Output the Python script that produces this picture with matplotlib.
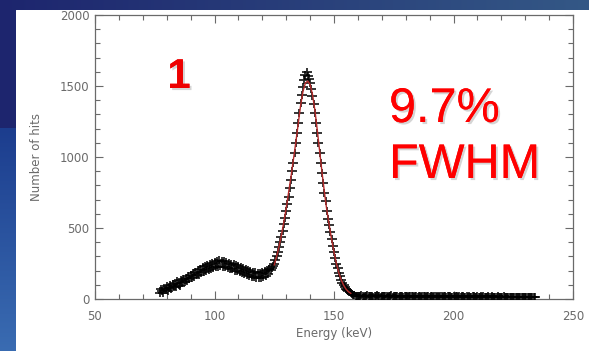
import numpy as np
import matplotlib
matplotlib.use("Agg")
import matplotlib.pyplot as plt
from matplotlib import patheffects as pe
from matplotlib.path import Path

# ---------------- data ----------------
# low-energy region, 0.5 keV bins starting at 77 keV
counts_low = [40, 72, 58, 45, 80, 62, 90, 55, 78, 98, 70, 105, 85, 115, 88, 125, 100,
              92, 135, 110, 142, 118, 150, 125, 162, 138, 170, 145, 185, 155, 192,
              168, 205, 172, 212, 185, 225, 190, 230, 198, 238, 205, 248, 210, 255,
              215, 262, 225, 268, 222, 275, 230, 270, 228, 265, 222, 262, 218, 255,
              212, 250, 208, 245, 200, 238, 195, 230, 188, 225, 182, 218, 175, 210,
              170, 205, 162, 198, 158, 192, 152, 188, 148, 185, 150, 182, 148, 190,
              155, 195, 165, 205, 178, 210]
# photopeak region, 0.5 keV bins starting at 123.5 keV
counts_peak = [205, 215, 230, 250, 275, 300, 330, 365, 400, 440, 480, 525, 570,
               620, 670, 720, 780, 840, 900, 960, 1030, 1100, 1170, 1240, 1310,
               1380, 1440, 1490, 1540, 1580, 1600, 1570, 1550, 1520, 1480, 1430,
               1370, 1310, 1240, 1170, 1100, 1030, 960, 890, 820, 750, 690, 620,
               560, 520, 470, 425, 375, 330, 290, 250, 215, 185, 160, 135, 115, 98,
               84, 72, 62, 54, 46, 40, 34, 30, 27, 24, 22, 20]
# high-energy tail, 0.5 keV bins starting at 160.5 keV
counts_tail = [22, 18, 25, 20, 17, 23, 19, 26, 21, 18, 24, 20, 16, 22, 19, 25, 18, 21, 17, 23,
               20, 24, 18, 22, 16, 21, 19, 25, 17, 20, 23, 18, 22, 15, 20, 24, 19, 17, 22, 18,
               21, 16, 23, 19, 18, 22, 15, 20, 24, 17, 19, 21, 16, 23, 18, 20, 15, 22, 19, 17,
               21, 18, 16, 22, 19, 15, 20, 17, 23, 18, 16, 21, 19, 15, 20, 18, 22, 16, 17, 20,
               15, 19, 18, 16, 21, 14, 18, 20, 16, 17, 19, 15, 21, 17, 14, 18, 20, 16, 15, 19,
               17, 14, 18, 16, 20, 15, 17, 13, 19, 16, 15, 18, 14, 17, 16, 13, 18, 15, 17, 14,
               16, 18, 13, 15, 17, 14, 16, 12, 15, 17, 13, 16, 14, 12, 15, 17, 13, 14, 16, 12,
               15, 13, 14, 16, 12, 15, 13, 14]

energy_low = [77 + 0.5 * i for i in range(len(counts_low))]
energy_peak = [123.5 + 0.5 * i for i in range(len(counts_peak))]
energy_tail = [160.5 + 0.5 * i for i in range(len(counts_tail))]

# fitted curve (red)
fit_energy = [125, 126, 127, 128, 129, 130, 131, 132, 133, 134, 135, 136, 137, 138,
              139, 140, 141, 142, 143, 144, 145, 146, 147, 148, 149, 150, 151, 152,
              153, 154, 155, 156, 157]
fit_counts = [240, 300, 370, 450, 540, 640, 750, 860, 980, 1100, 1230, 1360, 1460,
              1520, 1535, 1510, 1440, 1330, 1190, 1040, 890, 750, 625, 520, 420, 330,
              250, 185, 135, 98, 70, 52, 40]

x_ticks = [50, 100, 150, 200, 250]
y_ticks = [0, 500, 1000, 1500, 2000]

energy = energy_low + energy_peak + energy_tail
counts = counts_low + counts_peak + counts_tail

# ---------------- figure ----------------
W, H = 589, 351
fig = plt.figure(figsize=(W / 100, H / 100), dpi=100)

# slide background (blue gradient)
bg = fig.add_axes([0, 0, 1, 1])
bg.set_axis_off()
yy, xx = np.mgrid[0:H, 0:W]
c_tl = np.array([0x1d, 0x25, 0x6e]) / 255
c_tr = np.array([0x34, 0x58, 0x86]) / 255
c_bl = np.array([0x3a, 0x6c, 0xb2]) / 255
c_ml = np.array([0x1c, 0x3d, 0x8e]) / 255
t = (xx / W)[..., None]
img = c_tl * (1 - t) + c_tr * t
lower = (yy >= 128)[..., None]
s = np.clip((yy - 128) / (H - 128), 0, 1)[..., None]
img_low = c_ml * (1 - s) + c_bl * s
img = np.where(lower, img_low, img)
bg.imshow(img, extent=[0, 1, 0, 1], aspect="auto", transform=bg.transAxes)
bg.set_xlim(0, 1)
bg.set_ylim(0, 1)

# white panel
panel = fig.add_axes([16 / W, 0, 1 - 16 / W, 1 - 10 / H])
panel.set_axis_off()
panel.add_patch(plt.Rectangle((0, 0), 1, 1, color="white", transform=panel.transAxes))

# plus marker that is a little wider than tall
plus = Path([(-1, 0), (1, 0), (0, -0.7), (0, 0.7)],
            [Path.MOVETO, Path.LINETO, Path.MOVETO, Path.LINETO])

# main plot
gray = "#6a6a6a"
ax = fig.add_axes([95 / W, (H - 299) / H, (573 - 95) / W, (299 - 15) / H])
ax.set_facecolor("white")
ax.plot(energy, counts, linestyle="none", marker=plus, color="black",
        markersize=7.5, markeredgewidth=1.3, alpha=0.85, zorder=3)
ax.plot(fit_energy, fit_counts, color="#b52a2a", lw=1.0, zorder=4)

ax.set_xlim(50, 250)
ax.set_ylim(0, 2000)
ax.set_xticks(x_ticks)
ax.set_yticks(y_ticks)
ax.set_xticks(np.arange(50, 251, 10), minor=True)
ax.set_yticks(np.arange(0, 2001, 100), minor=True)
ax.tick_params(which="both", direction="in", top=True, right=True, color=gray,
               width=0.8, labelcolor=gray, labelsize=8.5)
ax.tick_params(which="major", length=6)
ax.tick_params(which="minor", length=3.5)
ax.tick_params(axis="x", which="major", pad=8)
ax.tick_params(axis="y", which="major", pad=4)
for sp in ax.spines.values():
    sp.set_color(gray)
    sp.set_linewidth(0.9)
ax.set_xlabel("Energy (keV)", color=gray, fontsize=8.5, labelpad=3)
ax.set_ylabel("Number of hits", color=gray, fontsize=8.5, labelpad=12)

shadow = [pe.withSimplePatchShadow(offset=(1.5, -1.5), shadow_rgbFace="#888888", alpha=0.35),
          pe.Normal()]
fig.text(179 / W, (H - 88) / H, "1", color="#ee0000", fontsize=30, fontweight="bold",
         family="Liberation Sans", ha="center", va="baseline", path_effects=shadow)
fig.text(389 / W, (H - 122) / H, "9.7%", color="#ff0000", fontsize=35,
         family="Liberation Sans", ha="left", va="baseline", path_effects=shadow)
fig.text(389 / W, (H - 178) / H, "FWHM", color="#ff0000", fontsize=35,
         family="Liberation Sans", ha="left", va="baseline", path_effects=shadow)

fig.savefig("out.png", dpi=100)
